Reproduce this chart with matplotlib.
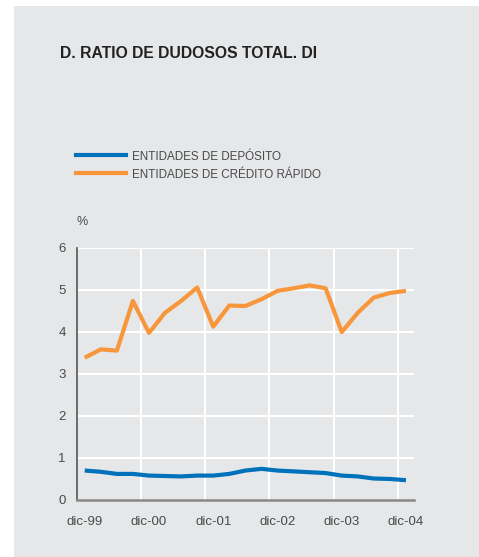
import matplotlib.pyplot as plt
from matplotlib.patches import Rectangle
import numpy as np

plt.rcParams['font.family'] = ['Liberation Sans', 'DejaVu Sans']

# quarterly, dic-99 .. dic-04
periodos = ['dic-99', 'mar-00', 'jun-00', 'sep-00', 'dic-00', 'mar-01', 'jun-01', 'sep-01',
            'dic-01', 'mar-02', 'jun-02', 'sep-02', 'dic-02', 'mar-03', 'jun-03', 'sep-03',
            'dic-03', 'mar-04', 'jun-04', 'sep-04', 'dic-04']
deposito = [0.70, 0.67, 0.62, 0.62, 0.58, 0.57, 0.56, 0.58, 0.58, 0.62,
            0.70, 0.74, 0.70, 0.68, 0.66, 0.64, 0.58, 0.56, 0.51, 0.50, 0.47]
credito_rapido = [3.38, 3.58, 3.55, 4.73, 3.97, 4.45, 4.73, 5.05, 4.12, 4.62,
                  4.61, 4.77, 4.97, 5.03, 5.10, 5.03, 3.99, 4.45, 4.81, 4.92, 4.97]
etiquetas = ['dic-99', 'dic-00', 'dic-01', 'dic-02', 'dic-03', 'dic-04']

W, H = 479, 557
fig = plt.figure(figsize=(W / 100, H / 100), dpi=100, facecolor='white')
bg = '#e6e7e9'
fig.patches.append(Rectangle((14 / W, 0), 1 - 14 / W, 1 - 6 / H, transform=fig.transFigure,
                             facecolor=bg, edgecolor='none', zorder=-10))

ax = fig.add_axes([76.7 / W, (H - 500) / H, (414 - 76.7) / W, (500 - 247.5) / H])
ax.set_facecolor(bg)

x = np.arange(len(periodos))
ax.plot(x, deposito, color='#0071bb', lw=3, solid_capstyle='butt', zorder=3)
ax.plot(x, credito_rapido, color='#f7963b', lw=3, solid_capstyle='butt', zorder=3)

ax.set_xlim(-0.5, len(periodos) - 0.5)
ax.set_ylim(0, 6)
ax.set_yticks(range(7))
ax.set_xticks(x[::4])
ax.set_xticklabels(etiquetas)
ax.grid(False)
for yv in range(1, 7):
    ax.axhline(yv, color='white', lw=1.5, zorder=1)
for xv in np.arange(3.5, len(periodos), 4):
    ax.axvline(xv, color='white', lw=1.5, zorder=1)

for s in ['top', 'right']:
    ax.spines[s].set_visible(False)
ax.spines['left'].set_color('#555555')
ax.spines['left'].set_linewidth(1.2)
ax.spines['bottom'].set_color('#888888')
ax.spines['bottom'].set_linewidth(1.8)
ax.tick_params(axis='both', which='both', length=0, labelsize=9.5, labelcolor='#4a4a4a')
ax.tick_params(axis='y', pad=8)
ax.tick_params(axis='x', pad=11.5)

fig.text(60 / W, 1 - 54 / H, 'D. RATIO DE DUDOSOS TOTAL. DI', fontsize=11.3, fontweight='bold',
         color='#222222', va='center', ha='left')
fig.text(81.7 / W, 1 - 222 / H, '%', fontsize=9, color='#4a4a4a', va='center', ha='center')

# legend
for yy, col, lab in [(155, '#0071bb', 'ENTIDADES DE DEPÓSITO'),
                     (173.3, '#f7963b', 'ENTIDADES DE CRÉDITO RÁPIDO')]:
    fig.lines.append(plt.Line2D([76 / W, 125.7 / W], [1 - yy / H, 1 - yy / H],
                                transform=fig.transFigure, color=col, lw=3))
    fig.text(131.7 / W, 1 - (yy + 1.5) / H, lab, fontsize=8.4, color='#4a4a4a', va='center', ha='left')

fig.savefig('out.png', dpi=100, facecolor='white')
